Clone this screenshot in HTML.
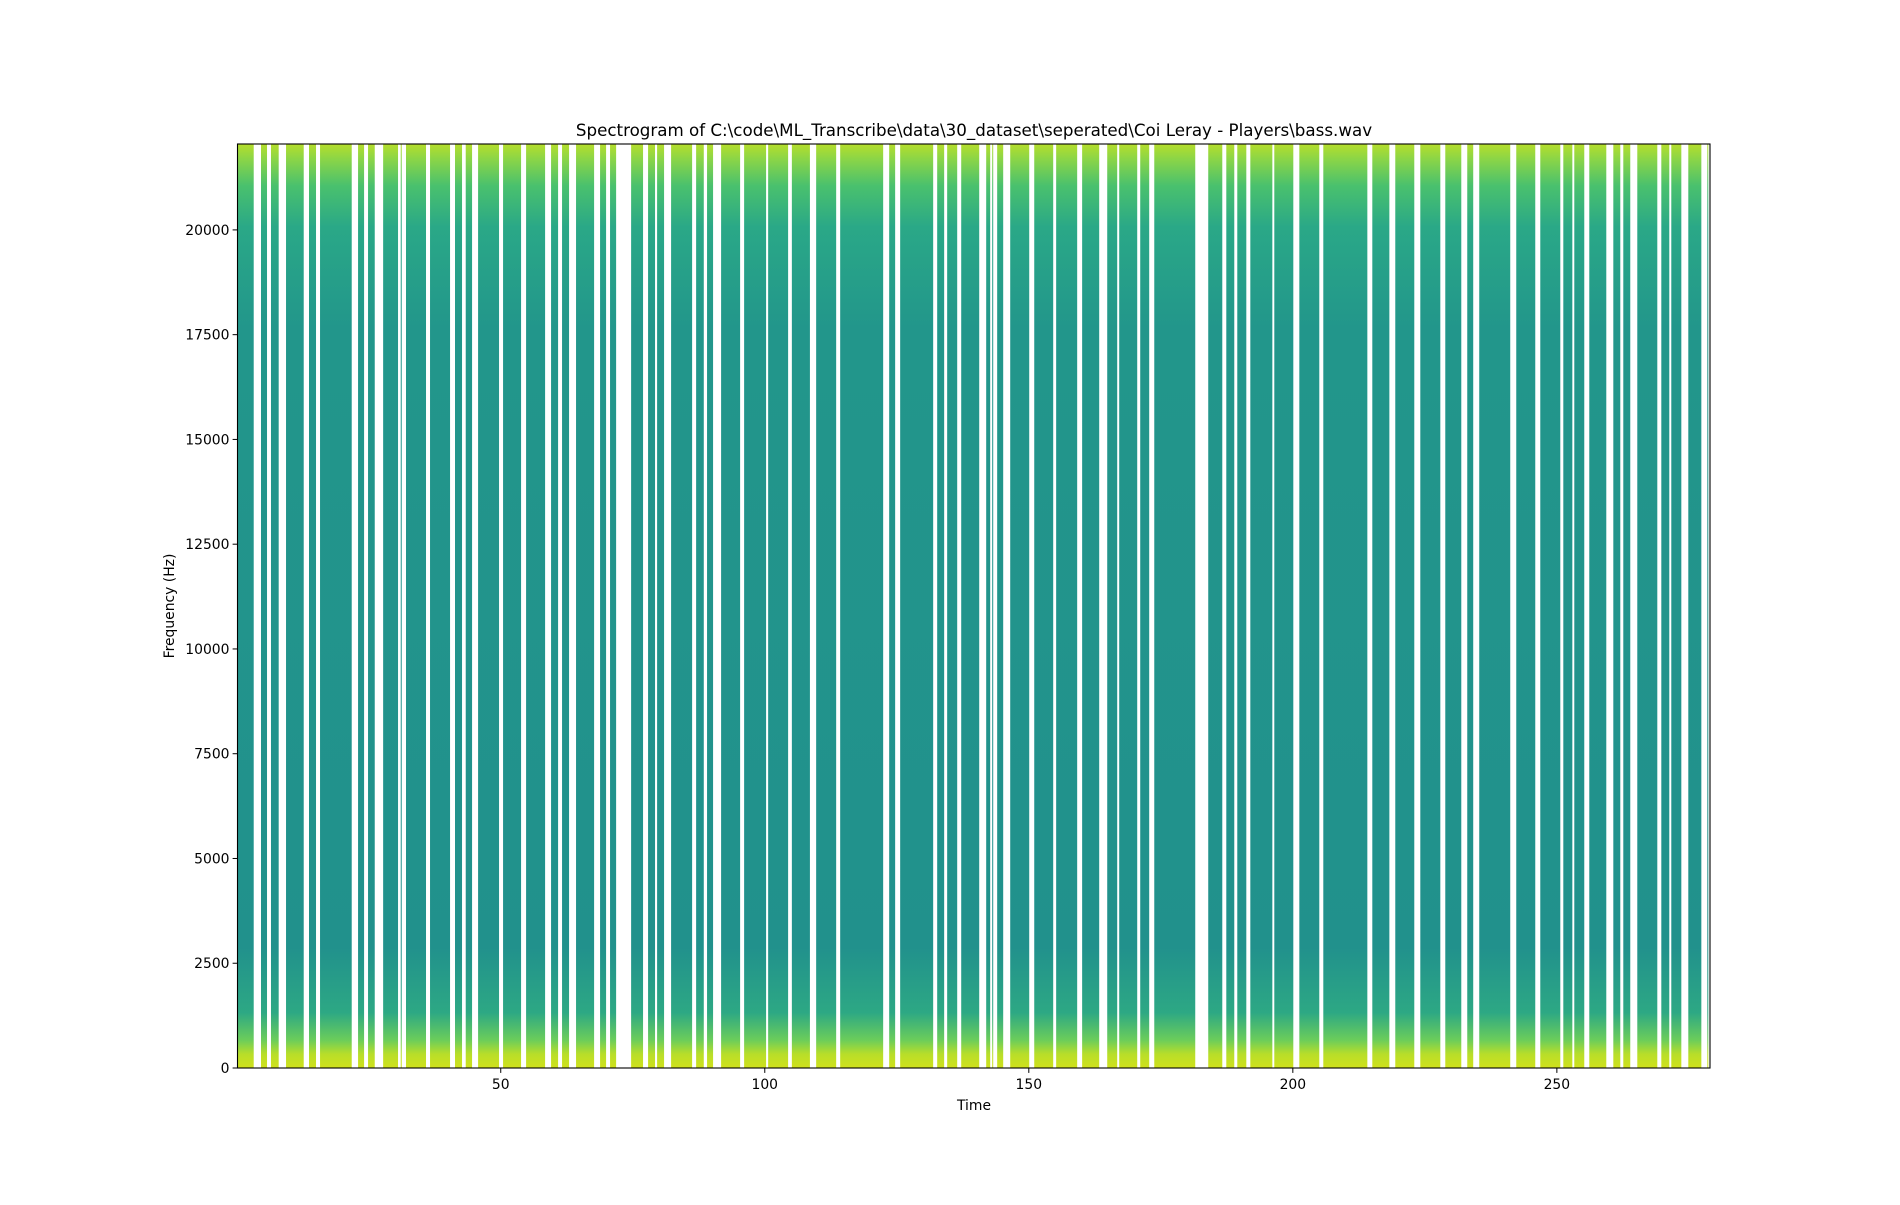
<!DOCTYPE html>
<html><head><meta charset="utf-8"><style>
html,body{margin:0;padding:0;background:#fff;}
svg text{font-family:"DejaVu Sans","Liberation Sans",sans-serif;fill:#000;}
</style></head><body>
<svg id="chart" width="1900" height="1200" xmlns="http://www.w3.org/2000/svg">
<defs>
<linearGradient id="specGrad" gradientUnits="userSpaceOnUse" x1="0" y1="144" x2="0" y2="1068">
<stop offset="0" stop-color="#b5de2b"/>
<stop offset="0.015" stop-color="#8ed645"/>
<stop offset="0.045" stop-color="#4ac16d"/>
<stop offset="0.09" stop-color="#2aa887"/>
<stop offset="0.2" stop-color="#22968b"/>
<stop offset="0.87" stop-color="#21918c"/>
<stop offset="0.94" stop-color="#2da884"/>
<stop offset="0.97" stop-color="#6ccd5a"/>
<stop offset="0.985" stop-color="#b8de29"/>
<stop offset="1" stop-color="#d0e11c"/>
</linearGradient>
</defs>
<text x="974" y="136" font-size="16.7" text-anchor="middle">Spectrogram of C:\code\ML_Transcribe\data\30_dataset\seperated\Coi Leray - Players\bass.wav</text>
<g id="bars"></g>
<g id="axes"></g>
<text x="974" y="1110" font-size="13.9" text-anchor="middle">Time</text>
<text transform="translate(174,606) rotate(-90)" font-size="13.9" text-anchor="middle">Frequency (Hz)</text>
</svg>
<script>
const segStarts = [0.15,4.60,6.49,9.34,13.69,15.78,22.98,24.87,27.73,31.06,32.06,36.61,41.34,43.37,45.71,50.44,54.80,59.53,61.61,64.26,68.81,70.70,74.69,77.90,79.61,82.26,87.00,89.07,91.73,96.09,100.64,105.13,109.73,114.28,123.56,125.64,132.65,134.54,137.20,141.93,143.07,144.01,146.48,151.03,155.18,160.10,164.85,167.12,171.10,173.76,183.98,187.40,189.48,191.95,196.49,201.23,205.77,215.05,219.40,224.14,228.87,233.03,235.30,242.31,246.86,251.22,253.30,256.14,260.69,262.58,265.23,269.78,271.67,274.89,278.49];
const segEnds = [3.22,5.74,7.95,12.69,15.02,21.78,24.12,26.14,30.55,31.25,35.85,40.40,42.67,44.57,49.68,53.85,58.40,60.86,62.94,67.68,69.95,71.85,76.95,79.22,80.93,86.24,88.45,90.21,95.33,100.25,104.42,108.55,113.52,122.42,124.69,131.89,133.97,136.44,140.61,142.69,143.25,145.15,150.08,154.62,159.16,163.33,166.74,170.53,172.80,181.52,186.64,188.91,191.19,196.12,200.09,205.01,214.11,218.28,223.00,227.93,231.90,234.16,241.17,245.91,250.65,252.93,255.19,259.36,262.01,263.90,269.02,271.29,273.57,277.36,278.68];
const xTicks = [50,100,150,200,250];
const yTicks = [0,2500,5000,7500,10000,12500,15000,17500,20000];
const xMin = 0.15, xMax = 279.0, yMin = 0, yMax = 22050;
const L=237.5, R=1710, T=144, B=1068;
const NS="http://www.w3.org/2000/svg";
function xs(v){return L+(v-xMin)/(xMax-xMin)*(R-L);}
function ys(v){return B-(v-yMin)/(yMax-yMin)*(B-T);}
const bars=document.getElementById('bars');
for(let i=0;i<segStarts.length;i++){
  const r=document.createElementNS(NS,'rect');
  const x0=xs(segStarts[i]), x1=xs(segEnds[i]);
  r.setAttribute('x',x0);r.setAttribute('y',ys(yMax));
  r.setAttribute('width',Math.max(1,x1-x0));r.setAttribute('height',ys(yMin)-ys(yMax));
  r.setAttribute('fill','url(#specGrad)');
  
  
  bars.appendChild(r);
}
const axes=document.getElementById('axes');
const frame=document.createElementNS(NS,'rect');
frame.setAttribute('x',L);frame.setAttribute('y',T);frame.setAttribute('width',R-L);frame.setAttribute('height',B-T);
frame.setAttribute('fill','none');frame.setAttribute('stroke','#000');frame.setAttribute('stroke-width','1.1');


axes.appendChild(frame);
xTicks.forEach(v=>{
  const x=xs(v);
  const l=document.createElementNS(NS,'line');
  l.setAttribute('x1',x);l.setAttribute('x2',x);l.setAttribute('y1',B);l.setAttribute('y2',B+4.9);l.setAttribute('stroke','#000');
  
  
  axes.appendChild(l);
  const t=document.createElementNS(NS,'text');
  t.setAttribute('x',x);t.setAttribute('y',B+21);t.setAttribute('font-size','13.9');t.setAttribute('text-anchor','middle');
  t.textContent=v;
  
  
  axes.appendChild(t);
});
yTicks.forEach(v=>{
  const y=ys(v);
  const l=document.createElementNS(NS,'line');
  l.setAttribute('x1',L-4.9);l.setAttribute('x2',L);l.setAttribute('y1',y);l.setAttribute('y2',y);l.setAttribute('stroke','#000');
  
  
  axes.appendChild(l);
  const t=document.createElementNS(NS,'text');
  t.setAttribute('x',L-8);t.setAttribute('y',y+5);t.setAttribute('font-size','13.9');t.setAttribute('text-anchor','end');
  t.textContent=v;
  
  
  axes.appendChild(t);
});
</script>
</body></html>
